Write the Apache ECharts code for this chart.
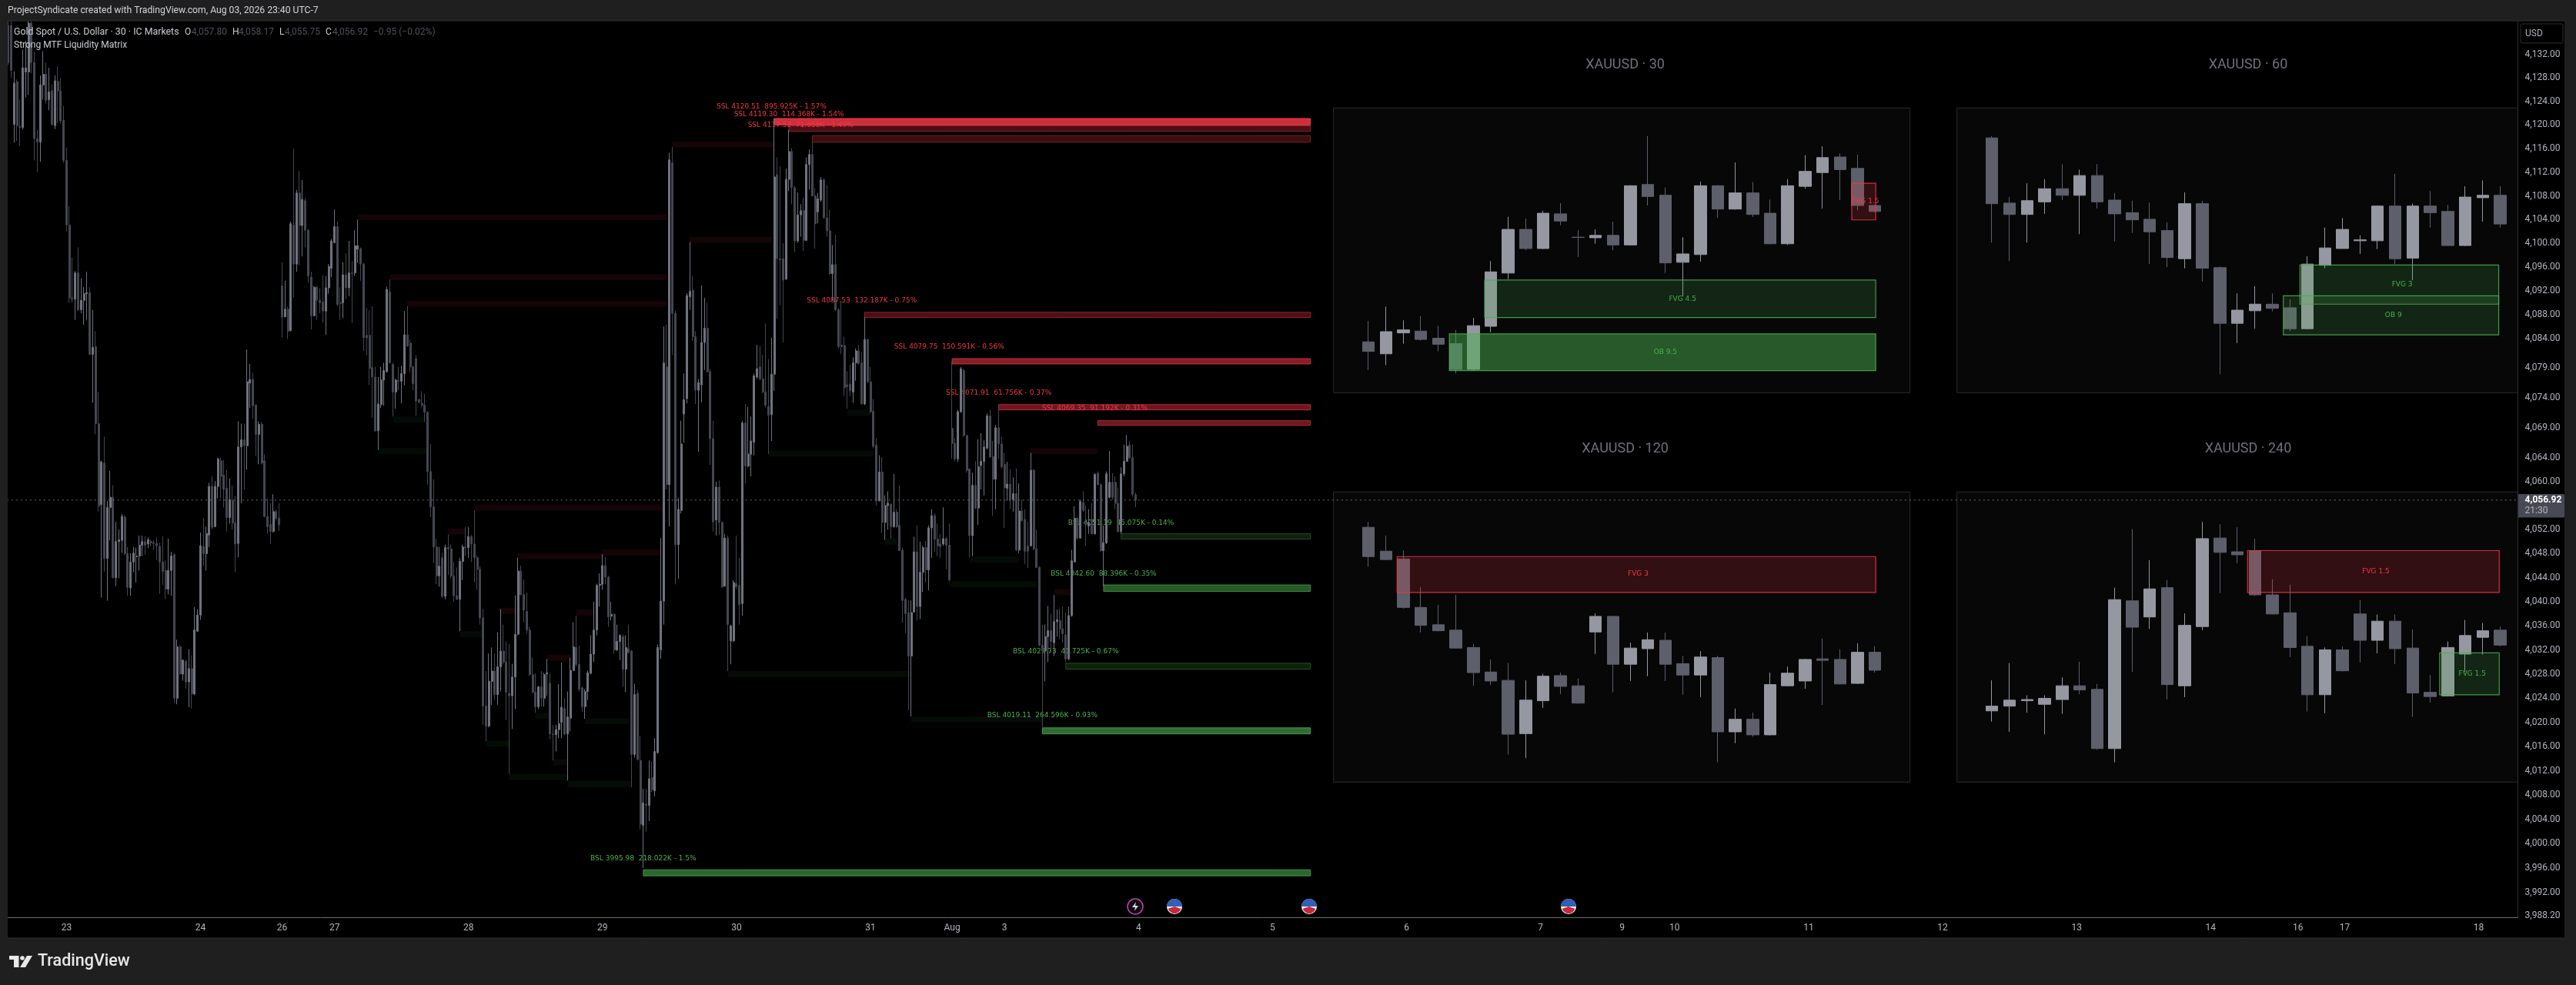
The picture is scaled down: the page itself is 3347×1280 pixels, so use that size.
<!DOCTYPE html>
<html><head><meta charset="utf-8">
<style>html,body{margin:0;padding:0;background:#000}#c{width:3347px;height:1280px}</style>
<script src="https://cdn.jsdelivr.net/npm/echarts@6/dist/echarts.min.js"></script>
</head><body><div id="c"></div>
<script>
// ---------- 30-minute candles on the main pane: [open, close, low, high]
const mainBars = [
[4136.9,4130.6,4130.2,4138],[4136.9,4129.3,4128,4138],[4120.1,4127.1,4117,4129.1],[4127.3,4119.9,4117.3,4127.7],[4119.8,4119.6,4116.4,4124.3],[4119.6,4129.7,4119.2,4132.8],[4129,4129.7,4124.7,4134.3],[4129,4137.3,4125.1,4138],[4137.3,4130.6,4128.8,4138],[4130.6,4117.7,4114,4132.5],
[4117.7,4117.1,4112,4119.2],[4117.1,4126.8,4113.8,4128.4],[4126.8,4128.6,4124.3,4132.5],[4128.6,4124.2,4123.6,4130.6],[4124.3,4125.6,4122.5,4129.7],[4125.8,4120.1,4119.9,4126.9],[4119.9,4127.5,4119.3,4128.4],[4127.4,4125.8,4120.3,4130],[4125.8,4120.7,4120.3,4128],[4120.8,4114,4113.6,4123.2],
[4114,4103.1,4102,4116.2],[4103.1,4090.8,4090,4106.3],[4090.8,4090.6,4090,4097.6],[4090.6,4095,4087.1,4095.3],[4095,4088.8,4088.6,4099.3],[4088.8,4090.4,4088.2,4094.1],[4090.4,4091.5,4086.3,4092.6],[4091.5,4091.7,4087.1,4095.2],[4091.7,4081.3,4081.2,4092.6],[4081.3,4082.5,4073.2,4088.8],
[4082.6,4069.7,4067.9,4085.2],[4069.7,4055.9,4055,4075],[4056.2,4063.3,4040.7,4063.5],[4063.1,4047.2,4045,4067.5],[4047.2,4055.7,4040.2,4056.8],[4055.7,4057.4,4050.2,4061.8],[4057.4,4044,4043.9,4059.4],[4044,4050,4042.6,4053.3],[4050,4050.3,4043.9,4052],[4050.2,4054.2,4048.1,4054.6],
[4054.1,4048,4047.8,4054.4],[4048,4042.4,4041,4049.1],[4042.3,4046.6,4041,4048.1],[4046.6,4048.1,4044.9,4049.1],[4047.5,4047.6,4043.2,4049],[4047.6,4049.4,4045.2,4051],[4049.4,4050,4047.6,4051],[4050,4049.4,4047.8,4050.9],[4049.6,4050.3,4048.9,4050.7],[4050,4049.8,4049.2,4050.3],
[4049.8,4049.7,4048.6,4050.2],[4049.7,4049.3,4046.9,4050.7],[4049.2,4046.6,4041.3,4049.8],[4046.6,4045,4042.8,4050.9],[4045.2,4042.1,4040.4,4046.9],[4042.1,4045.2,4041.2,4050.5],[4045.2,4047.6,4041,4048.3],[4047.8,4024,4023.2,4048.1],[4024,4032.5,4023,4033.7],[4032.5,4028,4027.9,4032.8],
[4028,4030.3,4026.9,4030.4],[4030.1,4026.7,4025.6,4030.4],[4026.7,4028.9,4022.5,4032.1],[4028.9,4024.7,4022.3,4031.1],[4024.7,4035.3,4024.5,4039.1],[4035.1,4037.8,4035,4038.7],[4037.8,4049.3,4037,4051.5],[4049.2,4048,4046,4053.9],[4048,4051.3,4045.2,4052.5],[4051.1,4059.2,4049.1,4059.8],
[4059.2,4052.4,4052,4060.9],[4052.5,4059.2,4052.4,4060.1],[4059.2,4063.8,4057.2,4064],[4063.5,4060.9,4057.2,4064],[4061.1,4058.7,4055.7,4063.6],[4058.9,4054,4051.7,4062],[4054,4057,4053,4060.5],[4056.8,4053.1,4052,4059.4],[4053.1,4049.6,4044.9,4057.6],[4049.7,4065.8,4047.4,4070.1],
[4065.8,4067,4056.4,4069.7],[4067,4066,4058.7,4069.7],[4066,4076.7,4062,4082.1],[4076.5,4077.1,4072.3,4079.7],[4077.1,4072.7,4070.5,4078.2],[4072.8,4067.9,4064.3,4073],[4067.9,4069.6,4062.9,4070.1],[4069.6,4063.1,4062.9,4070],[4063.5,4054.2,4054,4064.6],[4054.2,4052.5,4051.3,4057.2],
[4052.9,4051.7,4049.6,4056.4],[4051.7,4055,4051.5,4057.9],[4055,4053.9,4053.5,4055.3],[4053.9,4052.8,4051.8,4056.4],[4092.8,4087.6,4084.1,4096.8],[4087.6,4088.9,4087.6,4093.7],[4088.9,4085.2,4083.9,4089.3],[4085.3,4103.3,4085.2,4103.7],[4103.1,4096.5,4090.9,4116],[4096.5,4108.5,4095.2,4109],
[4108.5,4103,4096.3,4112.2],[4103,4107.4,4097.8,4110.7],[4107.2,4102.2,4099.3,4107.7],[4102.2,4094.5,4093.4,4102.4],[4094.3,4087.8,4085.5,4095.2],[4087.8,4092.6,4087.7,4092.8],[4092.6,4090.4,4087.1,4092.8],[4090.4,4090,4088.2,4092.4],[4090.1,4088.6,4086.7,4094.6],[4088.6,4092.5,4084.6,4094.5],
[4092.5,4096.1,4091.5,4096.5],[4095.8,4100.4,4094.3,4100.7],[4100.1,4102.8,4100,4105.7],[4102.8,4089.7,4089.4,4103.7],[4090,4089.8,4087.1,4092.6],[4090,4094.7,4087.4,4096.8],[4094.7,4092.5,4090.6,4098.3],[4092.5,4095,4091.1,4100.4],[4095,4094.9,4086.6,4097],[4095,4099.6,4094.5,4102.2],
[4099,4099.6,4096.7,4104],[4099.1,4096.5,4093.7,4099.3],[4096.5,4084.1,4081.9,4096.7],[4084.5,4084.1,4081.2,4089.1],[4084.5,4079,4076.2,4088.7],[4079.1,4077.5,4070.7,4089.4],[4077.5,4068.5,4068.3,4079.2],[4068.5,4073,4065.3,4077.5],[4072.9,4077,4072.3,4079.2],[4077,4078.6,4072.7,4079.9],
[4078.4,4092.2,4078.3,4092.7],[4091.8,4079.9,4079.8,4093.9],[4079.6,4075,4070.9,4079.9],[4075,4077,4072.2,4077.2],[4076.9,4076.8,4075.3,4079.2],[4076.8,4078.1,4073.1,4079.4],[4078.1,4084.6,4076.1,4088.6],[4084.6,4082.7,4082.6,4089.4],[4083.2,4079.2,4078.3,4083.8],[4079.2,4076.4,4075.3,4079.4],
[4080.6,4073.5,4071,4081.2],[4073.7,4073.3,4073.1,4073.9],[4073.1,4072.8,4072.4,4075.1],[4072.8,4071.6,4070,4074.7],[4071.6,4061.7,4059.5,4071.8],[4061.7,4055.8,4054.1,4066.3],[4055.8,4049.1,4046.4,4060.4],[4049.1,4044.3,4042.9,4050.5],[4044.3,4045.9,4042.5,4049.1],[4047.3,4040.9,4040.6,4048.2],
[4040.9,4049,4040.4,4049.5],[4049,4048.8,4044.5,4051.2],[4048.8,4044.3,4043.9,4049.5],[4044.3,4041,4040,4046.6],[4041,4040.4,4040.3,4045.7],[4040.4,4046.7,4035.1,4047.3],[4046.7,4049.1,4043.6,4049.5],[4049.1,4049,4047.6,4052.4],[4049,4050.8,4047.3,4052.4],[4050.8,4049.6,4046.6,4051.1],
[4049.6,4047.3,4043.2,4055.2],[4047.3,4045.4,4042,4047.7],[4045.4,4037.3,4036.2,4045.9],[4037.3,4022.7,4019.6,4038.8],[4022.7,4019.4,4016.9,4028.5],[4019.4,4026.8,4019.2,4031.4],[4026.8,4028.5,4022.9,4032.4],[4028.5,4024.6,4023.7,4031.4],[4024.6,4029.2,4022.9,4034.9],[4029.2,4031.8,4025.1,4038.8],
[4031.8,4030,4029.6,4036.2],[4030,4025,4020.4,4033.4],[4024.8,4024.4,4011.5,4033],[4024.4,4027.5,4018.9,4029.7],[4027.5,4034.6,4022.2,4041],[4034.6,4045.1,4034.4,4047.3],[4045.1,4041.2,4041,4046],[4041.2,4038.6,4036.6,4043.7],[4038.4,4035.3,4034.7,4041.5],[4035.3,4027.9,4027.7,4035.8],
[4027.9,4025,4024.8,4030.7],[4025,4022.6,4021.6,4028.1],[4022.6,4025.9,4022.2,4026],[4025.9,4024,4022.6,4028.5],[4024,4027.9,4022.6,4028.2],[4028,4028.2,4024.4,4030.5],[4026.5,4018.1,4017.2,4028.1],[4018.1,4018,4013.7,4019.6],[4018,4018.8,4015.2,4019.6],[4018.8,4019.8,4017.4,4026.3],
[4020,4022.5,4017.4,4029.9],[4022.3,4018.1,4017.9,4024],[4018.1,4020.9,4010.4,4025.1],[4020.7,4028.6,4018.5,4030.7],[4028.6,4032.5,4028.5,4036.6],[4032.4,4029.6,4029.2,4037.7],[4029.6,4025.5,4025.1,4032.7],[4025.7,4022.6,4021.8,4025.9],[4022.6,4025.1,4020.6,4025.5],[4025.1,4028.2,4023.7,4028.6],
[4028.1,4031.3,4028,4034.4],[4031.3,4035.3,4030,4040],[4035.3,4042.7,4034.4,4043],[4042.7,4042.9,4039.2,4044.7],[4042.9,4046,4042,4047.9],[4046,4044.1,4042.9,4047.4],[4044.1,4037.5,4035.8,4044.3],[4037.6,4037.9,4036.9,4040],[4037.9,4032,4031.4,4038.1],[4032,4033.4,4031.8,4036.2],
[4033.4,4034.4,4030.3,4034.6],[4034.2,4028.8,4025.9,4034.6],[4028.8,4032.4,4025,4034.4],[4032.2,4031.6,4031.4,4036.2],[4031.8,4014.7,4009.3,4032],[4014.7,4024.6,4014.2,4026.4],[4024.8,4013.9,4013.7,4025.3],[4013.7,4003.2,4002.4,4017.8],[4003,4006.7,3996,4009],[4006.5,4006.3,4002,4009],
[4006.3,4010.7,4003.7,4013.7],[4010.9,4008.9,4008.5,4013.5],[4008.7,4015.2,4007.8,4017.4],[4015,4032.4,4014.8,4032.9],[4032,4040.1,4030.5,4050.6],[4040.1,4079.9,4036.2,4086],[4079.2,4059.5,4058.7,4086.3],[4059.5,4114.1,4052.5,4115.3],[4113.6,4088.2,4081.2,4116.3],[4088.2,4049.5,4042.9,4088.6],
[4049.5,4055.4,4043.8,4057.3],[4055.2,4066.3,4054.7,4070.2],[4071.3,4073.7,4066.5,4078.1],[4073.9,4091.2,4073.1,4091.6],[4091,4091.9,4088.8,4100.2],[4092.1,4084.3,4083.6,4094.5],[4084.3,4075.3,4073,4085.2],[4075.3,4076.6,4065,4077.2],[4076.2,4083.3,4073.3,4092.9],[4083.3,4085.7,4078.7,4090.8],
[4085.7,4078.4,4078.3,4090],[4078.4,4067.2,4062.8,4078.9],[4067.2,4053.3,4051.7,4070.2],[4053.6,4059.1,4051,4060],[4059.1,4053.2,4051.1,4060.2],[4053.2,4042.5,4042.3,4053.3],[4042.6,4050.6,4042.5,4051.3],[4050.6,4036.2,4028.5,4051],[4033.5,4036,4029.6,4036.2],[4033.5,4043.2,4033.3,4043.6],
[4043,4042.5,4042.1,4051],[4042.7,4039.5,4036.2,4047.3],[4039.7,4069.8,4037.7,4070.2],[4069.8,4062.6,4059.7,4073],[4062.6,4064.6,4062.4,4072.5],[4064.6,4066.8,4060.9,4070.9],[4066.6,4077.7,4064.4,4078.1],[4077.5,4078.9,4077.2,4082.9],[4079.2,4077.2,4077,4082.7],[4077.2,4075,4074.8,4081.2],
[4075,4072.8,4072.4,4086.5],[4072.6,4071.1,4064.6,4080.5],[4071.2,4078,4066.8,4084.1],[4078,4111.2,4075.2,4121.1],[4111.6,4097.4,4087.3,4114.5],[4097.4,4097.2,4089.6,4113],[4097.4,4093.8,4083.3,4100],[4094,4110.8,4093.8,4112.6],[4110.8,4115.5,4108.8,4119.2],[4115.5,4109.4,4106.6,4116.1],
[4109.4,4100.4,4098.5,4109.7],[4100.4,4104.8,4100.1,4108.6],[4104.8,4105.5,4101.1,4106.6],[4105.5,4100.5,4098.7,4107.7],[4100.5,4113.3,4100.4,4114.5],[4113.3,4115,4109.1,4115.9],[4115,4108,4107.9,4117.2],[4108,4103.3,4099.1,4109.3],[4105.3,4107.5,4103.4,4108.5],[4107.3,4110.7,4107,4111.2],
[4110.7,4104.3,4104.1,4111],[4104.3,4102.1,4101.1,4109.8],[4102.1,4094.9,4094.7,4105.7],[4094.9,4096.4,4090.3,4099.7],[4096.4,4088.8,4088.6,4101.4],[4088.8,4082.6,4082.3,4089.1],[4082.9,4082.6,4081.4,4090.3],[4082.8,4075.7,4074.3,4084.3],[4076.2,4075.9,4072.2,4078.5],[4076.3,4075.2,4074.3,4079.6],
[4075,4079.9,4073.2,4080.8],[4079.9,4081.9,4076.9,4082.3],[4081.9,4079.8,4079.6,4082.9],[4079.9,4073,4073,4081.7],[4073,4083.8,4072.8,4087.6],[4083.8,4076.7,4076.5,4083.9],[4076.7,4071.7,4071.5,4079.2],[4071.8,4065.9,4065.6,4073.8],[4066.1,4056.8,4056,4067.3],[4056.8,4061.6,4056.7,4064.4],
[4061.6,4053.2,4051.4,4064.1],[4053.2,4056,4050.3,4057.7],[4056,4056.4,4052,4058.4],[4056.2,4052.5,4050.5,4056.4],[4052.5,4054.9,4052.3,4061.3],[4054.9,4052.5,4052.3,4055.4],[4052.7,4048.5,4048.4,4059.4],[4048.6,4040.2,4036.5,4049],[4040.4,4038,4034.8,4040.6],[4038.2,4031,4022,4040.2],
[4031,4038.2,4021,4040.2],[4038.3,4048.3,4038.2,4050.8],[4048.3,4039.2,4036.9,4052.7],[4039.2,4044.9,4037.1,4050],[4044.9,4049,4041.6,4049.3],[4049,4045.3,4043.2,4050.1],[4045.3,4052.3,4041.9,4052.7],[4052.3,4054.3,4047.3,4055.4],[4054.3,4050.4,4048.3,4054.7],[4050.4,4049.3,4047.6,4053],
[4049.6,4049.2,4047.3,4051.3],[4049.6,4050.5,4049.3,4055.7],[4050.5,4049.4,4045.4,4050.8],[4049.4,4043.6,4043.4,4053],[4068.9,4066.4,4063.8,4080.1],[4066.4,4063.8,4063.4,4067.3],[4063.8,4071.7,4063.3,4072],[4071.7,4078.9,4071.5,4079.2],[4078.6,4067.7,4067.5,4078.9],[4067.7,4061.9,4061.5,4067.8],
[4062.1,4051,4047.4,4062.2],[4051,4059.4,4047.6,4061.5],[4059.4,4055.6,4055.4,4063.4],[4055.6,4062.5,4052.8,4067.1],[4062.7,4063.4,4058.7,4068.1],[4063.4,4065.8,4057.7,4066.9],[4065.6,4071,4065.4,4071.4],[4071,4064.1,4064,4072],[4064.2,4060.4,4054.3,4066.8],[4060.4,4069,4055.4,4069.5],
[4069,4066.3,4063.8,4072.8],[4066.3,4062.5,4062.2,4067.5],[4062.9,4059,4052.3,4064.8],[4058.9,4059.6,4056.8,4063.3],[4059.6,4057,4055.4,4062.1],[4057,4058,4055,4060.7],[4058,4048.6,4048.4,4062.2],[4048.6,4055.1,4048.1,4059.7],[4055.1,4053.5,4053.3,4057],[4053.7,4048.4,4046.3,4055.4],
[4049.3,4048.4,4045.6,4053.3],[4049.3,4061.9,4049.2,4064.8],[4061.9,4048.8,4048.6,4062.1],[4048.8,4045.7,4045.6,4052],[4045.7,4032.8,4032.6,4045.9],[4032.8,4031.8,4019,4036.2],[4031.8,4034.2,4026.8,4036.2],[4034.2,4035.2,4030,4039.3],[4035.2,4033.4,4031.5,4038],[4033.2,4036.7,4031,4041.1],
[4036.7,4037,4034.2,4038.7],[4036.9,4035.5,4033.8,4038.9],[4035.5,4034.7,4033.2,4039.2],[4034.5,4030.5,4030,4038.2],[4030.5,4037.7,4030.3,4039.2],[4037.7,4046.8,4037.5,4048.6],[4046.6,4053.9,4046.6,4055.9],[4053.9,4050.6,4050.3,4054.1],[4050.6,4056.7,4050.5,4057],[4056.5,4055.2,4055,4058.4],
[4053.2,4053,4049.3,4056],[4052.6,4053.2,4051.3,4055.4],[4053.7,4051.3,4051.2,4056.4],[4051.3,4061.2,4051.2,4061.4],[4061.4,4059.5,4059.4,4061.7],[4059.5,4048.5,4048.3,4059.7],[4048.5,4049.8,4042.6,4052.7],[4049.8,4061.3,4049.6,4061.7],[4057.4,4059.9,4057.2,4065.1],[4059.9,4057.4,4057,4061.4],
[4059.9,4056.4,4055.4,4060.9],[4056.4,4051.7,4051.5,4059],[4051.7,4061.3,4051.3,4062.4],[4061.3,4063.4,4060.9,4066.2],[4063.4,4065.9,4063.3,4067.8],[4066.1,4064,4063.8,4066.8],[4064,4057.9,4057.5,4066.2],[4057.8,4056.92,4055.75,4058.17]
];

// ---------- Mini panels: [open, close, low, high]
const bars30 = [
[4083.4,4081.8,4078.7,4086.9],[4081.4,4085.1,4079.5,4089.3],[4084.9,4085.4,4083.1,4087],[4085.2,4083.8,4083.6,4087.7],[4084,4083,4081.8,4086.1],[4083.1,4078.8,4078.1,4085.4],[4078.8,4086.1,4078.6,4087.4],[4086,4095.1,4085,4096.9],[4094.9,4102.2,4093.9,4104.3],[4102.2,4099,4098.7,4104],
[4099,4104.9,4098.9,4105.3],[4104.8,4103.6,4102.9,4106.6],[4100.9,4100.85,4097.6,4102.1],[4100.8,4101.2,4099.8,4102.2],[4101.2,4099.6,4098.7,4103.5],[4099.6,4109.5,4099.5,4109.6],[4109.7,4107.7,4106.2,4117.8],[4107.9,4096.6,4094.9,4109.2],[4096.7,4098.1,4091,4100.9],[4098,4109.5,4096.8,4110.2],
[4109.5,4105.6,4104.1,4109.6],[4105.6,4108.3,4105.5,4113.4],[4108.3,4104.7,4104.3,4110.1],[4104.9,4099.8,4099.7,4107.2],[4099.8,4109.5,4099.6,4110.6],[4109.4,4111.9,4109,4114.6],[4111.7,4114.2,4105.7,4116.1],[4114.3,4112.2,4107.1,4114.9],[4112.4,4106.2,4105.4,4114.7],[4106.2,4105.2,4105.1,4106.3]];
const bars60 = [
[4117.5,4106.5,4100,4117.8],[4106.6,4104.7,4096.9,4107.6],[4104.7,4107,4100,4109.9],[4106.8,4109,4104.8,4110.6],[4109,4107.9,4107.1,4113.1],[4107.9,4111.2,4101.4,4112.2],[4111.2,4106.8,4105.7,4113.1],[4107.1,4104.8,4100.2,4108.3],[4105,4103.8,4101.6,4107],[4103.9,4101.8,4096.4,4106.7],
[4102,4097.5,4095.9,4103.4],[4097.3,4106.5,4095.7,4108.4],[4106.5,4095.7,4093.5,4107],[4095.8,4086.5,4078,4096],[4086.5,4088.7,4083.2,4091.5],[4088.6,4089.7,4085.6,4092.7],[4089.7,4089,4088.5,4091.5],[4089.1,4085.6,4085.2,4090.5],[4085.6,4096.4,4085.5,4097.7],[4096.2,4099.1,4095.7,4102.5],
[4099,4102.2,4099,4104.1],[4100.3,4100.45,4098.1,4101.2],[4100.3,4106.1,4098.9,4106.2],[4106.1,4097.3,4096.4,4111.5],[4097.4,4106.1,4093.7,4106.5],[4106.1,4105,4102.5,4108.6],[4105.2,4099.5,4099.4,4106.3],[4099.5,4107.6,4099.4,4109.4],[4107.5,4107.9,4103.5,4110.4],[4107.9,4103.1,4102.5,4109.4]];
const bars120 = [
[4052.5,4047.6,4045.9,4053.4],[4048.5,4047.1,4047,4051.1],[4047.2,4039.1,4038.9,4048.6],[4039.1,4036.1,4034.9,4042.5],[4036.2,4035.2,4035.1,4039.5],[4035.3,4032.3,4032.2,4041.2],[4032.4,4028.2,4026,4033],[4028.3,4026.8,4026.1,4030.4],[4026.9,4017.9,4014.5,4029.8],[4018,4023.6,4013.9,4026.9],
[4023.5,4027.6,4022.3,4028],[4027.7,4025.9,4024.6,4028.2],[4026,4023.1,4023,4027.2],[4035,4037.6,4031.3,4038.1],[4037.6,4029.6,4024.9,4037.7],[4029.6,4032.3,4026.8,4033.2],[4032.2,4033.7,4027.6,4034.9],[4033.6,4029.6,4026.8,4034.9],[4029.7,4027.8,4024.5,4031],[4027.8,4030.8,4024.1,4031.8],
[4030.7,4018.3,4013.2,4031],[4018.3,4020.4,4016.4,4022.2],[4020.4,4017.8,4017.5,4021.5],[4017.8,4026.2,4017.7,4028.2],[4026,4028.1,4025.9,4029.2],[4026.8,4030.4,4025.5,4030.5],[4030.5,4030.25,4022.8,4033.9],[4030.4,4026.3,4026.2,4032.1],[4026.4,4031.6,4026.3,4033.1],[4031.6,4028.6,4028.2,4032.6]];
const bars240 = [
[4021.8,4022.6,4020,4026.9],[4022.6,4023.6,4018.3,4029.8],[4023.5,4023.7,4021.5,4024.4],[4022.9,4023.9,4017.9,4024.4],[4023.7,4026,4021.3,4027.4],[4026,4025.3,4024.6,4030],[4025.4,4015.5,4015.3,4026.3],[4015.5,4040.4,4013.2,4042.4],[4040.2,4035.8,4028.3,4052.2],[4037.5,4042.2,4035.5,4047],
[4042.4,4026.2,4023.7,4043.7],[4026,4036.1,4024.1,4038.1],[4035.9,4050.6,4035.3,4053.4],[4050.7,4048.3,4041.5,4053],[4048.4,4047.9,4046.5,4052.5],[4048.6,4041.2,4041,4050.6],[4041.2,4038,4037.9,4043.8],[4038.2,4032.4,4030.8,4042.9],[4032.6,4024.5,4021.7,4034.3],[4024.5,4032,4021.4,4032.4],
[4032,4028.5,4028.4,4032.6],[4038,4033.6,4029.9,4040.3],[4033.6,4036.8,4031.4,4037.9],[4036.8,4032.2,4029.6,4037.9],[4032.3,4024.8,4020.8,4035.4],[4024.9,4024.2,4023.2,4027.8],[4024.3,4032.4,4024.2,4033.4],[4031.3,4034.4,4028.3,4037],[4034.1,4035.2,4031.2,4036.5],[4035.3,4032.8,4032.6,4035.9]];

// ---------- Tick labels
const dayTicks = [[20,'23'],[66,'24'],[94,'26'],[112,'27'],[158,'28'],[204,'29'],[250,'30'],[296,'31'],[324,'Aug'],[342,'3'],[388,'4'],[434,'5'],[480,'6'],[526,'7'],[554,'9'],[572,'10'],[618,'11'],[664,'12'],[710,'13'],[756,'14'],[786,'16'],[802,'17'],[848,'18']];
const priceTicks = [4132,4128,4124,4120,4116,4112,4108,4104,4100,4096,4092,4088,4084,4079,4074,4069,4064,4060,4052,4048,4044,4040,4036,4032,4028,4024,4020,4016,4012,4008,4004,4000,3996,3992,3988.2];
const lastPrice = 4056.92;
const lastCountdown = '21:30';

// ---------- Active liquidity levels: [start bar, top, bottom, label bar, label price]
const endBar = 447;
const sslLevels = [
[263,4121.1,4120.0,262,4123.1],[268,4119.85,4118.9,268,4121.8],[276,4118.2,4117.1,272,4120],[294,4088.4,4087.5,293,4090.3],[324,4080.6,4079.7,323,4082.6],[340,4072.9,4072,340,4074.8],[374,4070.2,4069.4,373,4072.2]];
const sslTexts = ['SSL 4120.51  895.925K - 1.57%','SSL 4119.30  114.368K - 1.54%','SSL 4117.52  71.658K - 1.49%','SSL 4087.53  132.187K - 0.75%','SSL 4079.75  150.591K - 0.56%','SSL 4071.91  61.756K - 0.37%','SSL 4069.35  91.192K - 0.31%'];
const sslStrength = [.85,.3,.24,.3,.55,.45,.45];
const bslLevels = [
[382,4051.3,4050.4,382,4053.1],[376,4042.8,4041.7,376,4044.6],[363,4029.8,4028.8,363,4031.7],[355,4019.1,4018.1,355,4021.1],[218,3995.7,3994.7,218,3997.5]];
const bslTexts = ['BSL 4051.19  45.075K - 0.14%','BSL 4042.60  88.396K - 0.35%','BSL 4029.73  41.725K - 0.67%','BSL 4019.11  264.596K - 0.93%','BSL 3995.98  218.022K - 1.5%'];
const bslStrength = [.18,.5,.18,.62,.58];

// ---------- Swept levels: [start bar, end bar, top, bottom]
const sweptHighs = [
[120,226,4104.9,4103.9],[131,226,4094.8,4093.8],[137,226,4090.3,4089.3],[228,263,4117.2,4116.2],[234,262,4101.1,4100.1],[160,225,4056.2,4055.2],[151,157,4052.2,4051.2],[175,204,4048.1,4047.1],[204,224,4048.7,4047.7],[169,174,4039,4038],[195,201,4038.7,4037.7],[185,193,4031.2,4030.2],[351,374,4065.6,4064.6],[359,365,4042.1,4041.1]];
const sweptLows = [
[132,143,4070.9,4069.9],[127,144,4065.6,4064.6],[155,163,4035.1,4034.1],[164,172,4017,4016],[172,192,4011.5,4010.5],[181,186,4021.6,4020.6],[187,192,4013.9,4012.9],[198,213,4020.7,4019.7],[192,214,4010.3,4009.3],[247,310,4028.5,4027.5],[261,297,4065.2,4064.2],[288,296,4072,4071],[301,305,4050.5,4049.5],[330,347,4047.5,4046.5],[323,353,4043.4,4042.4],[310,355,4021,4020]];

// ---------- Panel zones: [left slot, right slot, top, bottom, label slot, label price]
const zones30 = [[8.65,31.04,4093.73,4087.47,19.98,4090.55],[6.63,31.04,4084.73,4078.6,19,4081.7],[29.67,31.04,4109.92,4103.79,30.45,4106.88]];
const zoneNames30 = ['FVG 4.5','OB 9.5','FVG 1.5'];
const zones60 = [[19.57,30.91,4096.25,4089.7,25.4,4093],[18.62,30.91,4091.11,4084.56,24.9,4087.9]];
const zoneNames60 = ['FVG 3','OB 9'];
const zones120 = [[3.64,31.04,4047.6,4041.6,17.44,4044.7]];
const zoneNames120 = ['FVG 3'];
const zones240 = [[16.58,30.94,4048.6,4041.6,23.9,4045.1],[27.54,30.94,4031.5,4024.5,29.4,4028]];
const zoneNames240 = ['FVG 1.5','FVG 1.5'];
const panelSides = {z30:['bull','bull','bear'],z60:['bull','bull'],z120:['bear'],z240:['bear','bull']};

// ---------- Chart construction
const BULL='76,175,80', BEAR='242,54,69';
const LABEL_FONT='"DejaVu Sans"';
const UI_FONT='Roboto';
const slotCount=862;
const categories=new Array(slotCount).fill('');
dayTicks.forEach(([i,t])=>categories[i]=t);

const panels=[
 {name:'XAUUSD · 30',bars:bars30,zones:zones30,names:zoneNames30,sides:panelSides.z30,rect:[1732.7,140.3,748.9,370],range:[4074.9,4122.5],slots:33,titleX:2106.6,titleY:70},
 {name:'XAUUSD · 60',bars:bars60,zones:zones60,names:zoneNames60,sides:panelSides.z60,rect:[2542.7,140.3,728.7,370],range:[4074.9,4122.5],slots:32,titleX:2916,titleY:70},
 {name:'XAUUSD · 120',bars:bars120,zones:zones120,names:zoneNames120,sides:panelSides.z120,rect:[1732.7,639.3,748.9,377],range:[4009.9,4058.4],slots:33,titleX:2106.6,titleY:569},
 {name:'XAUUSD · 240',bars:bars240,zones:zones240,names:zoneNames240,sides:panelSides.z240,rect:[2542.7,639.3,728.7,377],range:[4009.9,4058.4],slots:32,titleX:2916,titleY:569}
];

const grids=[{left:8.8,top:27,width:3262.8,height:1165,show:false}];
const xAxes=[{type:'category',gridIndex:0,data:categories,boundaryGap:true,
  axisLine:{lineStyle:{color:'#6e6e6e',width:1}},axisTick:{show:false},splitLine:{show:false},
  axisLabel:{color:'#b2b5be',fontFamily:UI_FONT,fontSize:12,margin:8,hideOverlap:false,interval:(i,v)=>v!=='',
    formatter:v=>v}}];
const yAxes=[{type:'log',logBase:Math.E,gridIndex:0,position:'right',min:3987.9,max:4137.7,
  axisLine:{show:true,lineStyle:{color:'#2e2e2e'}},axisTick:{show:false},axisLabel:{show:false},splitLine:{show:false},minorTick:{show:false},minorSplitLine:{show:false}}];

function levelSeries(rows,texts,strength,rgb,name){
 return [{type:'custom',name:name+' labels',xAxisIndex:0,yAxisIndex:0,z:1,silent:true,
   data:rows.map(r=>[r[3],r[4]]),encode:{x:0,y:1},
   renderItem:(p,api)=>{const c=api.coord([api.value(0),api.value(1)]);
     return {type:'text',style:{x:c[0],y:c[1],text:texts[p.dataIndex],fill:`rgb(${rgb})`,font:`9px ${LABEL_FONT}`,align:'center',verticalAlign:'middle'}}}},
  {type:'custom',name:name+' levels',xAxisIndex:0,yAxisIndex:0,z:1.5,silent:true,
   data:rows.map(r=>[r[0],r[1],endBar,r[2]]),encode:{x:[0,2],y:[1,3]},
   renderItem:(p,api)=>{const a=api.coord([api.value(0),api.value(1)]),b=api.coord([api.value(2),api.value(3)]);
     const s=strength[p.dataIndex];
     return {type:'rect',shape:{x:a[0],y:a[1],width:b[0]-a[0],height:b[1]-a[1]},
       style:{fill:`rgba(${rgb},${s})`,stroke:`rgba(${rgb},${Math.min(1,s+.2)})`,lineWidth:1}}}}];
}
function sweptSeries(rows,rgb,alpha,name){
 return {type:'custom',name,xAxisIndex:0,yAxisIndex:0,z:1,silent:true,data:rows,encode:{x:[0,1],y:[2,3]},
   renderItem:(p,api)=>{const a=api.coord([api.value(0),api.value(2)]),b=api.coord([api.value(1),api.value(3)]);
     return {type:'rect',shape:{x:a[0],y:a[1],width:b[0]-a[0],height:b[1]-a[1]},style:{fill:`rgba(${rgb},${alpha})`}}}};
}
const series=[
 sweptSeries(sweptHighs,BEAR,.09,'Swept highs'),
 sweptSeries(sweptLows,BULL,.065,'Swept lows'),
 ...levelSeries(sslLevels,sslTexts,sslStrength,BEAR,'SSL'),
 ...levelSeries(bslLevels,bslTexts,bslStrength,BULL,'BSL'),
 {type:'candlestick',name:'XAUUSD 30',xAxisIndex:0,yAxisIndex:0,z:2,silent:true,barWidth:2.5,data:mainBars,
  itemStyle:{color:'#70737e',color0:'#444650',borderColor:'#70737e',borderColor0:'#444650',borderWidth:1}},
 {type:'custom',name:'Price scale',xAxisIndex:0,yAxisIndex:0,z:6,silent:true,data:priceTicks.map(v=>[slotCount-1,v]),encode:{x:0,y:1},
  renderItem:(p,api)=>{const c=api.coord([api.value(0),api.value(1)]);
    const s=api.value(1).toLocaleString('en-US',{minimumFractionDigits:2,maximumFractionDigits:2});
    return {type:'text',style:{x:p.coordSys.x+p.coordSys.width+9,y:c[1],text:s,fill:'#b2b5be',font:`12px ${UI_FONT}`,align:'left',verticalAlign:'middle'}}}},
 {type:'custom',name:'Last price',xAxisIndex:0,yAxisIndex:0,z:7,silent:true,data:[[slotCount-1,lastPrice]],encode:{x:0,y:1},
  renderItem:(p,api)=>{const c=api.coord([api.value(0),api.value(1)]),cs=p.coordSys,r=cs.x+cs.width;
    const s=api.value(1).toLocaleString('en-US',{minimumFractionDigits:2});
    return {type:'group',children:[
     {type:'line',shape:{x1:cs.x,y1:c[1],x2:r,y2:c[1]},style:{stroke:'#6b6e7b',lineWidth:1,lineDash:[2,4]}},
     {type:'rect',shape:{x:r+.5,y:c[1]-8,width:60,height:30.5,r:[0,2,2,0]},style:{fill:'#474a55'}},
     {type:'text',style:{x:r+9,y:c[1],text:s,fill:'#ffffff',font:`bold 12px ${UI_FONT}`,verticalAlign:'middle'}},
     {type:'text',style:{x:r+9,y:c[1]+14.5,text:lastCountdown,fill:'#b2b5be',font:`12px ${UI_FONT}`,verticalAlign:'middle'}}]}}}
];
const titles=[];
panels.forEach((pn,k)=>{
 const gi=k+1,[l,t,w,h]=pn.rect;
 grids.push({left:l,top:t,width:w,height:h,show:true,backgroundColor:'#070708',borderColor:'#2b2b2e',borderWidth:1});
 xAxes.push({type:'value',gridIndex:gi,min:0,max:pn.slots,show:false,splitLine:{show:false}});
 yAxes.push({type:'value',gridIndex:gi,min:pn.range[0],max:pn.range[1],show:false,splitLine:{show:false},scale:true});
 series.push({type:'candlestick',name:pn.name,xAxisIndex:gi,yAxisIndex:gi,z:3,silent:true,barWidth:16,
   data:pn.bars.map((b,i)=>[i+2,...b]),encode:{x:0,y:[1,2,3,4]},
   itemStyle:{color:'#9598a1',color0:'#5d606b',borderColor:'#9598a1',borderColor0:'#5d606b',borderWidth:1}});
 series.push({type:'custom',name:pn.name+' zones',xAxisIndex:gi,yAxisIndex:gi,z:4,silent:true,data:pn.zones,encode:{x:[0,1],y:[2,3]},
   renderItem:(p,api)=>{const a=api.coord([api.value(0),api.value(2)]),b=api.coord([api.value(1),api.value(3)]);
     const c=api.coord([api.value(4),api.value(5)]);
     const name=pn.names[p.dataIndex],rgb=pn.sides[p.dataIndex]==='bull'?BULL:BEAR;
     const alpha=name==='OB 9.5'?.49:.18;
     return {type:'group',children:[
      {type:'rect',shape:{x:a[0],y:a[1],width:b[0]-a[0],height:b[1]-a[1]},style:{fill:`rgba(${rgb},${alpha})`,stroke:`rgba(${rgb},.85)`,lineWidth:1.2}},
      {type:'text',style:{x:c[0],y:c[1],text:name,fill:`rgb(${rgb})`,font:`9px ${LABEL_FONT}`,align:'center',verticalAlign:'middle'}}]}}});
 titles.push({text:pn.name,left:pn.titleX,top:pn.titleY,textAlign:'center',textStyle:{color:'#6e717b',fontFamily:UI_FONT,fontSize:18,fontWeight:'normal'}});
});

// ---------- Window frame and chart header
const FRAME='#1f1f1f';
const tx=(x,y,text,fill,font,extra)=>({type:'text',z:61,silent:true,style:Object.assign({x,y,text,fill,font,verticalAlign:'middle'},extra||{})});
const legendDim='#4f525c', legendInk='#c9ccd4';
function eventBadge(cx,cy,kind){
 const kids=[];
 if(kind==='bolt'){
  kids.push({type:'circle',shape:{cx,cy,r:10},style:{fill:'#120412',stroke:'#b84bb0',lineWidth:1.5}});
  kids.push({type:'polygon',shape:{points:[[cx+1,cy-6],[cx-4,cy+1],[cx,cy+1],[cx-1,cy+6],[cx+4,cy-1],[cx,cy-1]]},style:{fill:'#d9d9e0'}});
 } else {
  kids.push({type:'circle',shape:{cx,cy,r:10},style:{fill:'#f4f4f6'}});
  kids.push({type:'sector',shape:{cx,cy,r:10,startAngle:Math.PI,endAngle:2*Math.PI},style:{fill:'#2f5fb8'}});
  kids.push({type:'sector',shape:{cx,cy,r:9,startAngle:.35,endAngle:Math.PI-.35},style:{fill:'#c8283a'}});
 }
 return {type:'group',z:62,silent:true,children:kids};
}
const graphics=[
 {type:'rect',z:60,silent:true,shape:{x:0,y:0,width:3347,height:27},style:{fill:FRAME}},
 {type:'rect',z:60,silent:true,shape:{x:0,y:0,width:10,height:1280},style:{fill:FRAME}},
 {type:'rect',z:60,silent:true,shape:{x:3332,y:0,width:15,height:1280},style:{fill:FRAME}},
 {type:'rect',z:60,silent:true,shape:{x:0,y:1219,width:3347,height:61},style:{fill:FRAME}},
 {type:'line',z:60,silent:true,shape:{x1:10,y1:27,x2:3332,y2:27},style:{stroke:'#303030'}},
 {type:'line',z:60,silent:true,shape:{x1:10,y1:1219,x2:3332,y2:1219},style:{stroke:'#303030'}},
 tx(10,13.5,'ProjectSyndicate created with TradingView.com, Aug 03, 2026 23:40 UTC-7','#d1d4dc',`12.2px ${UI_FONT}`),
 tx(18,42,'Gold Spot / U.S. Dollar · 30 · IC Markets',legendInk,`12.4px ${UI_FONT}`),
 tx(240,42,'O',legendInk,`12px ${UI_FONT}`),tx(249,42,'4,057.80',legendDim,`12px ${UI_FONT}`),
 tx(302,42,'H',legendInk,`12px ${UI_FONT}`),tx(310,42,'4,058.17',legendDim,`12px ${UI_FONT}`),
 tx(363,42,'L',legendInk,`12px ${UI_FONT}`),tx(370,42,'4,055.75',legendDim,`12px ${UI_FONT}`),
 tx(423,42,'C',legendInk,`12px ${UI_FONT}`),tx(432,42,'4,056.92',legendDim,`12px ${UI_FONT}`),
 tx(485,42,'−0.95 (−0.02%)',legendDim,`12px ${UI_FONT}`),
 tx(18,59,'Strong MTF Liquidity Matrix',legendInk,`12px ${UI_FONT}`),
 {type:'rect',z:61,silent:true,shape:{x:3275,y:31,width:55,height:25,r:2},style:{fill:'#000',stroke:'#2e2e2e'}},
 tx(3281,43.5,'USD','#b2b5be',`12px ${UI_FONT}`),
 // TradingView wordmark
 {type:'polygon',z:61,silent:true,shape:{points:[[12,1242],[24.5,1242],[24.5,1257],[18,1257],[18,1247],[12,1247]]},style:{fill:'#e8e8e8'}},
 {type:'circle',z:61,silent:true,shape:{cx:29,cy:1245,r:2.8},style:{fill:'#e8e8e8'}},
 {type:'polygon',z:61,silent:true,shape:{points:[[35,1242],[42,1242],[33,1257],[26,1257]]},style:{fill:'#e8e8e8'}},
 tx(49,1250,'TradingView','#e8e8e8',`500 21.5px ${UI_FONT}`),
 eventBadge(1475,1178,'bolt'),eventBadge(1526,1178,'flag'),eventBadge(1701,1178,'flag'),eventBadge(2038,1178,'flag')
];

const chart=echarts.init(document.getElementById('c'),null,{renderer:'canvas',width:3347,height:1280});
chart.setOption({backgroundColor:'#000000',animation:false,title:titles,grid:grids,xAxis:xAxes,yAxis:yAxes,series,graphic:{elements:graphics}});
</script></body></html>
